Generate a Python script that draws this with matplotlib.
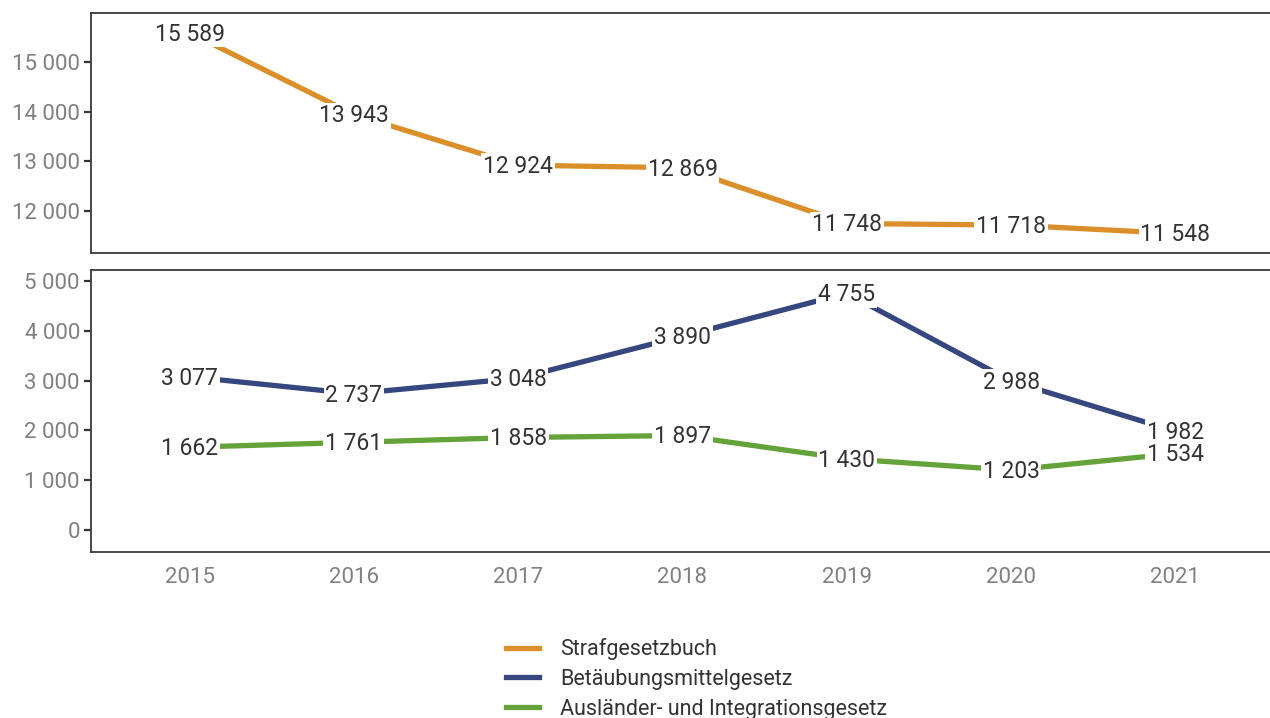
import matplotlib
matplotlib.use("Agg")
from matplotlib import pyplot as plt
from matplotlib.lines import Line2D

#   data
years = [2015, 2016, 2017, 2018, 2019, 2020, 2021]
stgb = [15589, 13943, 12924, 12869, 11748, 11718, 11548]
btmg = [3077, 2737, 3048, 3890, 4755, 2988, 1982]
aig = [1662, 1761, 1858, 1897, 1430, 1203, 1534]

names = ["Strafgesetzbuch", "Betäubungsmittelgesetz", "Ausländer- und Integrationsgesetz"]
colors = ["#DB8F2A", "#36467F", "#64A23A"]

top_ticks = [12000, 13000, 14000, 15000]
bottom_ticks = [0, 1000, 2000, 3000, 4000, 5000]

W, H = 1270, 718
FONT = "Roboto"
plt.rcParams["font.family"] = [FONT, "DejaVu Sans"]


def fmt(v):
    return f"{v:,}".replace(",", " ")


def px_axes(fig, left, top, right, bottom):
    return fig.add_axes([left / W, 1 - bottom / H, (right - left) / W, (bottom - top) / H])


def style(ax, ticks, ylim):
    ax.set_xlim(2014.4, 2021.6)
    ax.set_ylim(*ylim)
    ax.set_yticks(ticks)
    ax.set_yticklabels([fmt(t) for t in ticks], fontsize=16, color="#808080")
    for s in ax.spines.values():
        s.set_color("#3a3a3a")
        s.set_linewidth(1.3)
    ax.tick_params(axis="y", length=5, width=1.6, color="#333333", pad=3)


def draw(ax, values, color):
    ax.plot(years, values, color=color, lw=3.8, solid_capstyle="butt", zorder=2)
    for x, v in zip(years, values):
        ax.annotate(fmt(v), (x, v), xytext=(0, -1), textcoords="offset points",
                    ha="center", va="center", fontsize=16.5, color="#333333",
                    zorder=3,
                    bbox=dict(boxstyle="square,pad=0.08", fc="white", ec="none"))


fig = plt.figure(figsize=(W / 100, H / 100), dpi=100)

ax1 = px_axes(fig, 91, 13, 1274, 253)
style(ax1, top_ticks, (11155, 15985))
ax1.set_xticks([])
draw(ax1, stgb, colors[0])

ax2 = px_axes(fig, 91, 270, 1274, 552)
style(ax2, bottom_ticks, (-442, 5221))
ax2.set_xticks(years)
ax2.set_xticklabels([str(y) for y in years], fontsize=16, color="#808080")
ax2.tick_params(axis="x", length=0, pad=11)
draw(ax2, btmg, colors[1])
draw(ax2, aig, colors[2])

#   legend
handles = [Line2D([], [], color=c, lw=3.8) for c in colors]
leg = fig.legend(handles, names, loc="upper left", bbox_to_anchor=(487 / W, 1 - 619 / H),
                 frameon=False, handlelength=1.5, handletextpad=1.0,
                 labelspacing=0.4, prop={"family": [FONT, "DejaVu Sans"], "size": 15.5})
for t in leg.get_texts():
    t.set_color("#333333")

fig.savefig("out.png", dpi=100, facecolor="white")
